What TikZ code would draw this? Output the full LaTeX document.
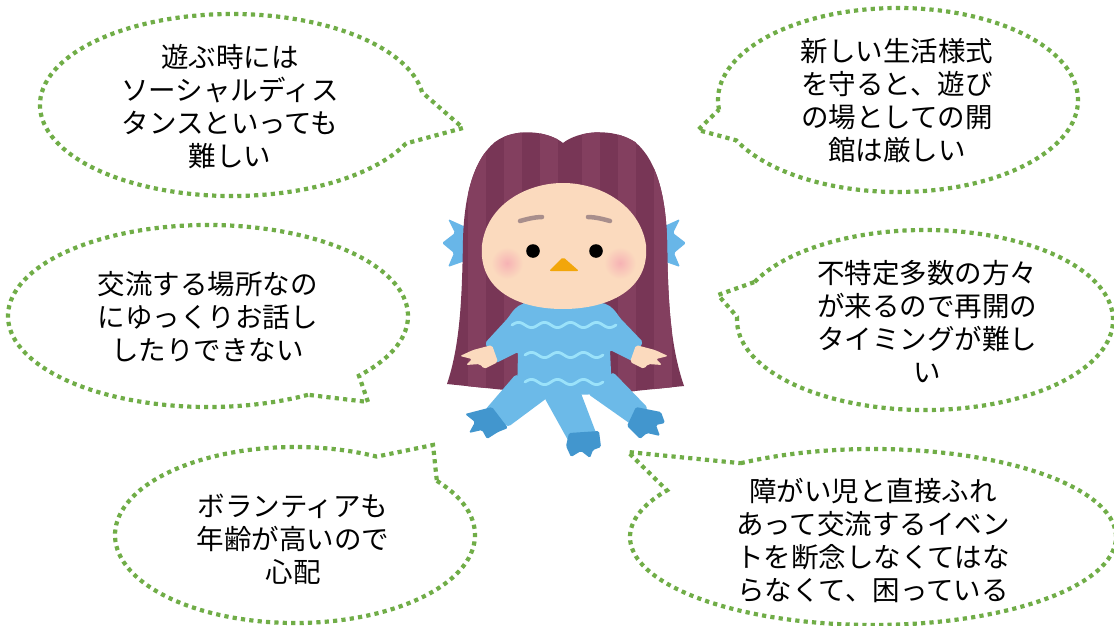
\documentclass[tikz,border=0pt]{standalone}
\usepackage{fontspec}
\newfontfamily\jpfont{Noto Sans CJK JP}

\definecolor{bubblegreen}{RGB}{112,173,71}
\definecolor{hairdark}{RGB}{120,54,86}
\definecolor{hairlight}{RGB}{131,63,95}
\definecolor{skin}{RGB}{251,218,190}
\definecolor{browcol}{RGB}{168,142,140}
\definecolor{beakcol}{RGB}{242,166,10}
\definecolor{cheekcol}{RGB}{246,178,180}
\definecolor{suitblue}{RGB}{108,186,232}
\definecolor{wavecol}{RGB}{155,226,250}
\definecolor{finblue}{RGB}{104,182,232}
\definecolor{footblue}{RGB}{66,150,206}

% speech bubble: name, centre x, centre y, x radius, y radius,
% start angle, end angle of the outline, tip x, tip y
\newcommand\speechbubble[9]{%
  \coordinate (#1-tip) at (#8,#9);
  \draw[bubbleline] ({#2+#4*cos(#6)},{#3+#5*sin(#6)})
    arc[start angle=#6, end angle=#7, x radius=#4, y radius=#5]
    -- (#1-tip) -- cycle;
}

\def\hairpath{(563,143) .. controls (548,131) and (515,127) .. (495,142)
  .. controls (472,161) and (464,200) .. (463,240)
  .. controls (462,300) and (460,345) .. (447,384) -- (505,390) -- (625,392) -- (684,386)
  .. controls (670,345) and (668,300) .. (667,240)
  .. controls (666,200) and (658,161) .. (635,142)
  .. controls (612,127) and (578,131) .. (563,143) -- cycle}

\begin{document}
\begin{tikzpicture}[x=1pt,y=-1pt,
  bubbleline/.style={draw=bubblegreen, line width=4.2pt, dash pattern=on 4.2pt off 4.2pt},
  bubbletext/.style={font=\jpfont\fontsize{27.5}{33}\selectfont, align=center, inner sep=0pt, text=black},
  wave/.style={draw=wavecol, line width=2.8pt, line cap=round},
  brow/.style={draw=browcol, line width=4.5pt, line cap=round}]
\useasboundingbox (0,0) rectangle (1114,626);
\fill[white] (0,0) rectangle (1114,626);

% ---- speech bubbles ----
\speechbubble{b1}{232}{105}{192}{91}{25}{352}{463}{128}
\speechbubble{b2}{898}{100}{180}{92}{174}{514}{698}{130}
\speechbubble{b3}{208}{316}{200}{91}{60}{401}{368}{402}
\speechbubble{b4}{925}{320}{188}{90}{205}{542}{718}{295}
\speechbubble{b5}{295}{535}{180}{88}{322}{657}{433}{445}
\speechbubble{b6}{873}{537}{243}{88}{237}{572}{628}{452}

\node[bubbletext] (t1) at (230,106.5) {遊ぶ時には\\ソーシャルディス\\タンスといっても\\難しい};
\node[bubbletext] (t2) at (897,101) {新しい生活様式\\を守ると、遊び\\の場としての開\\館は厳しい};
\node[bubbletext] (t3) at (207.5,316.5) {交流する場所なの\\にゆっくりお話し\\したりできない};
\node[bubbletext] (t4) at (927,322) {不特定多数の方々\\が来るので再開の\\タイミングが難し\\い};
\node[bubbletext] (t5) at (293,539) {ボランティアも\\年齢が高いので\\心配};
\node[bubbletext] (t6) at (873,540) {障がい児と直接ふれ\\あって交流するイベン\\トを断念しなくてはな\\らなくて、困っている};

% ---- amabie figure ----
% side fins
\fill[finblue, rounded corners=1.5pt] (468,228) -- (448,219) -- (455,233) -- (442,243) -- (454,253) -- (448,267) -- (468,260) -- cycle;
\fill[finblue, rounded corners=1.5pt] (660,228) -- (680,219) -- (673,233) -- (686,243) -- (674,253) -- (680,267) -- (660,260) -- cycle;

% hair with vertical stripes
\fill[hairdark] \hairpath;
\begin{scope}
  \clip \hairpath;
  \foreach \sx in {468,504,540,582,618,654} {
    \fill[hairlight] (\sx,120) rectangle ++(18,280);
  }
\end{scope}

% legs
\fill[suitblue, rounded corners=3pt] (516,374) -- (547,398) -- (508,427) -- (485,410) -- cycle;
\fill[suitblue, rounded corners=3pt] (539,388) -- (579,388) -- (598,438) -- (569,442) -- cycle;
\fill[suitblue, rounded corners=3pt] (588,394) -- (613,372) -- (648,408) -- (632,425) -- cycle;

% feet
\fill[footblue, rounded corners=1.5pt] (492,407) -- (465,414) -- (475,422) -- (469,433) -- (482,430) -- (487,439) -- (498,432) -- (508,428) -- cycle;
\fill[footblue, rounded corners=1.5pt] (569,433) -- (599,431) -- (601,447) -- (593,450) -- (590,458) -- (581,451) -- (571,457) -- (566,446) -- cycle;
\fill[footblue, rounded corners=1.5pt] (636,407) -- (661,412) -- (665,423) -- (656,425) -- (660,436) -- (647,433) -- (640,439) -- (627,426) -- cycle;

% torso and sleeves
\fill[suitblue, rounded corners=2pt] (525,303) -- (603,303)
  .. controls (612,306) and (616,312) .. (620,318) -- (643,342) -- (632,361) -- (610,350)
  -- (612,394) -- (517,396) -- (518,352) -- (496,363) -- (485,343) -- (508,318)
  .. controls (512,312) and (516,306) .. (525,303) -- cycle;

% wave pattern on the suit
\draw[wave] plot[domain=512:616, samples=80] (\x,{325-2.6*sin((\x-512)/26*360)});
\draw[wave] plot[domain=525:603, samples=60] (\x,{355-2.6*sin((\x-525)/26*360)});
\draw[wave] plot[domain=525:603, samples=60] (\x,{382-2.6*sin((\x-525)/26*360)});

% hands
\fill[skin, rounded corners=2pt] (492,345) -- (473,350) -- (460,356) -- (472,359) -- (466,365) -- (480,364) -- (484,369) -- (498,362) -- cycle;
\fill[skin, rounded corners=2pt] (636,345) -- (655,350) -- (668,356) -- (656,359) -- (662,365) -- (648,364) -- (644,369) -- (630,362) -- cycle;

% face
\fill[skin] (563,183) .. controls (600,183) and (640,205) .. (646,245)
  .. controls (650,290) and (608,309) .. (563,309)
  .. controls (518,309) and (478,290) .. (482,245)
  .. controls (487,205) and (526,183) .. (563,183) -- cycle;

% cheeks
\shade[inner color=cheekcol, outer color=skin] (507,263) circle (16);
\shade[inner color=cheekcol, outer color=skin] (620,263) circle (16);

% eyebrows, eyes, beak
\draw[brow] (520,221) .. controls (527,219) and (535,217) .. (542,217);
\draw[brow] (588,217) .. controls (595,217) and (603,219) .. (610,221);
\fill[black] (533,251) circle (6.8);
\fill[black] (596,251) circle (6.8);
\fill[beakcol, rounded corners=2pt] (563,257) -- (579,271) -- (549,271) -- cycle;
\end{tikzpicture}
\end{document}
